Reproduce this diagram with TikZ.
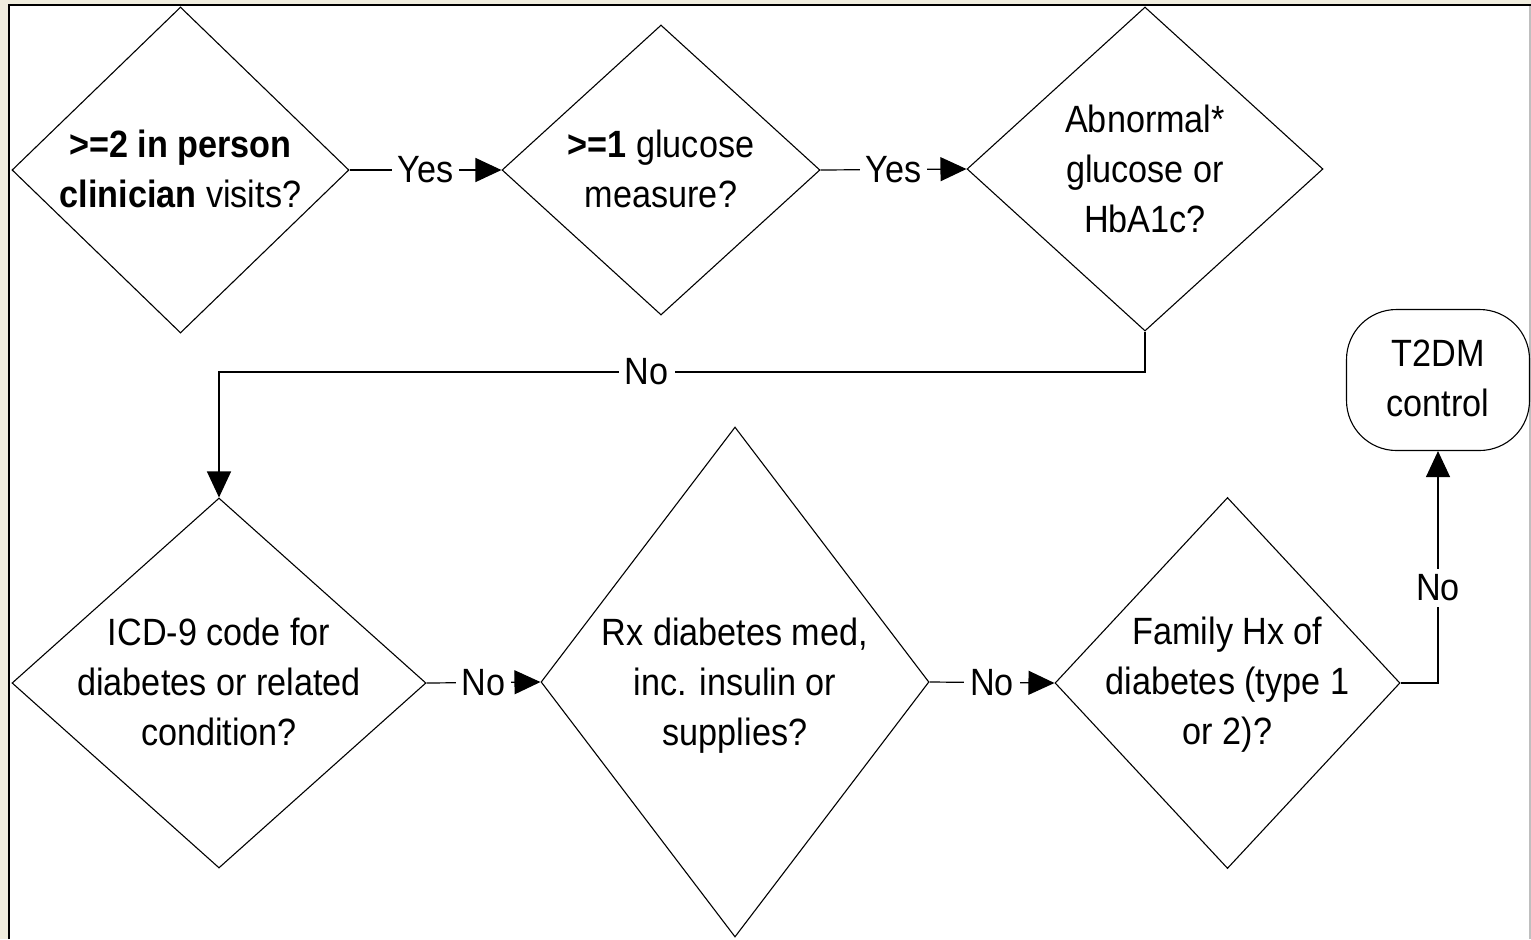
\documentclass[tikz,border=0pt]{standalone}
\usepackage{fontspec}
\setmainfont[FakeStretch=0.9]{Liberation Sans}
\usetikzlibrary{shapes.geometric,arrows.meta,calc}
\definecolor{cream}{RGB}{240,237,222}
\begin{document}
\begin{tikzpicture}[x=0.5pt,y=-0.5pt,
 dia/.style={draw=black, line width=0.55pt, diamond, inner sep=0pt},
 txt/.style={align=center, font=\fontsize{19}{25}\selectfont, inner sep=0pt},
 term/.style={draw, rounded corners=25pt, line width=0.55pt, minimum width=91.5pt, minimum height=70.5pt, inner sep=0pt},
 conn/.style={line width=0.6pt, -{Triangle[length=13pt,width=12pt]}},
 lbl/.style={fill=white, font=\fontsize{19}{25}\selectfont, inner sep=3pt}]
\useasboundingbox (0,0) rectangle (1531,939);
\fill[cream] (0,0) rectangle (1531,939);
\fill[white] (10,6) rectangle (1529,939);
\draw[line width=1.1pt] (9,939) -- (9,5) -- (1531,5);
\draw[gray!50, line width=1pt] (1530,6) -- (1530,939);

% diamonds
\node[dia, minimum width=168.5pt, minimum height=163pt] (d1) at (180.5,170) {};
\node[txt] (t1) at ($(d1.center)+(0,-1.5)$) {\textbf{>=2 in person}\\\textbf{clinician} visits?};
\node[dia, minimum width=159pt, minimum height=145pt] (d2) at (661,170) {};
\node[txt] (t2) at ($(d2.center)+(0,-1.5)$) {\textbf{>=1} glucose\\measure?};
\node[dia, minimum width=178pt, minimum height=162pt] (d3) at (1145,169) {};
\node[txt] (t3) at (d3.center) {Abnormal*\\glucose or\\HbA1c?};
\node[dia, minimum width=207pt, minimum height=185pt] (d4) at (219,683) {};
\node[txt] (t4) at ($(d4.center)+(0,-1)$) {ICD-9 code for\\diabetes or related\\condition?};
\node[dia, minimum width=194pt, minimum height=255pt] (d5) at (735,682) {};
\node[txt] (t5) at ($(d5.center)+(0,4)$) {Rx diabetes med,\\inc. insulin or\\supplies?};
\node[dia, minimum width=172.5pt, minimum height=185.5pt] (d6) at (1227.5,683) {};
\node[txt] (t6) at ($(d6.center)+(0,2)$) {Family Hx of\\diabetes (type 1\\or 2)?};
\node[term] (t) at (1438,380) {};
\node[txt] (tt) at ($(t.center)+(0,-2)$) {T2DM\\control};

% connectors
\coordinate (c1) at (219,372);
\draw[conn] (d1.east) -- node[lbl]{Yes} (d2.west);
\draw[conn] (d2.east) -- node[lbl]{Yes} (d3.west);
\draw[conn] (d3.south) |- node[lbl,pos=0.769]{No} (c1) -- (d4.north);
\draw[conn] (d4.east) -- node[lbl]{No} (d5.west);
\draw[conn] (d5.east) -- node[lbl]{No} (d6.west);
\draw[conn] (d6.east) -| node[lbl,pos=0.705]{No} (t.south);
\end{tikzpicture}
\end{document}
